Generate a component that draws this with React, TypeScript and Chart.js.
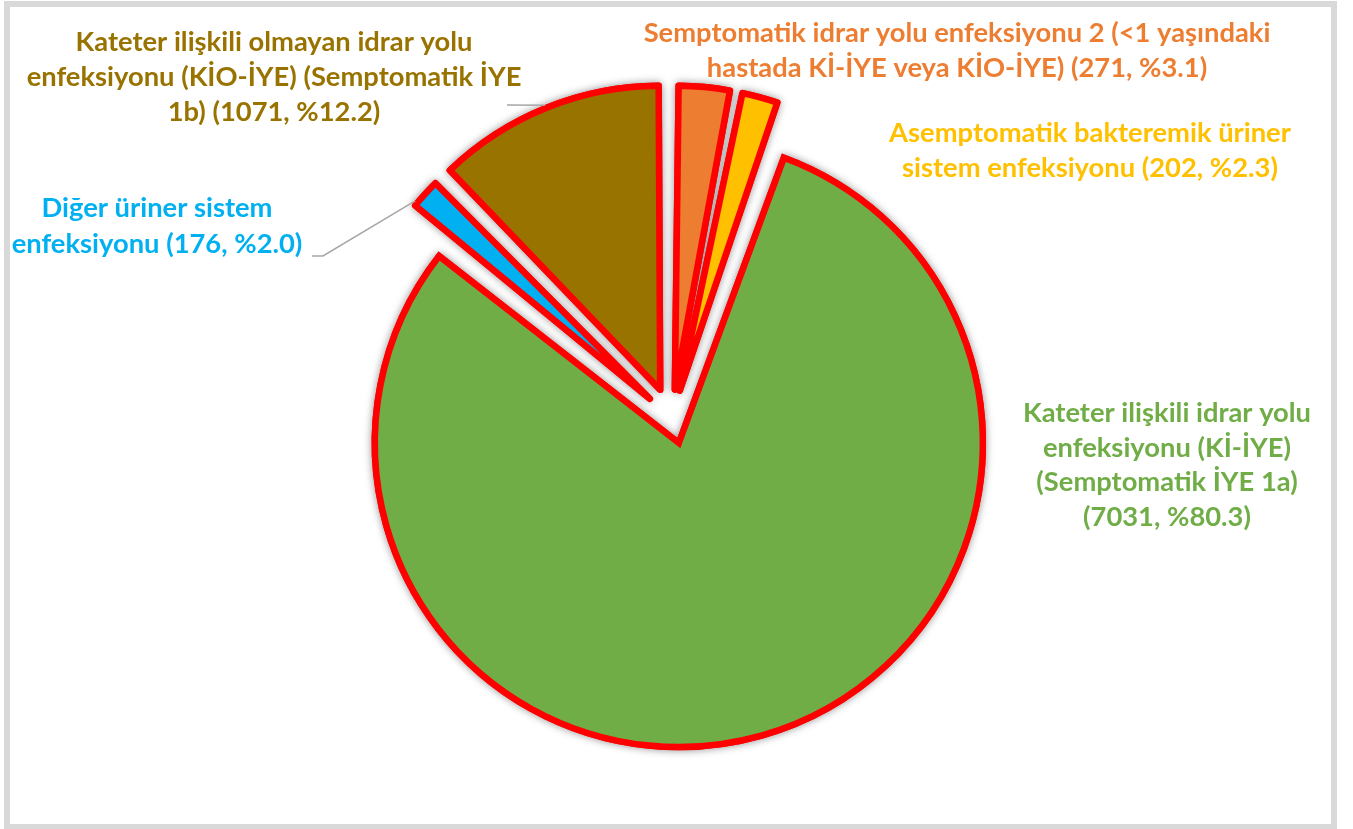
import React, { useEffect, useRef } from "react";
import { Chart, registerables } from "chart.js";

Chart.register(...registerables);

// ---------- data ----------
const categories = [
  "Semptomatik idrar yolu enfeksiyonu 2 (<1 yaşındaki hastada Kİ-İYE veya KİO-İYE)",
  "Asemptomatik bakteremik üriner sistem enfeksiyonu",
  "Kateter ilişkili idrar yolu enfeksiyonu (Kİ-İYE) (Semptomatik İYE 1a)",
  "Diğer üriner sistem enfeksiyonu",
  "Kateter ilişkili olmayan idrar yolu enfeksiyonu (KİO-İYE) (Semptomatik İYE 1b)",
];
const counts = [271, 202, 7031, 176, 1071];
const percents = ["3.1", "2.3", "80.3", "2.0", "12.2"];

const valueTag = (i: number) => `(${counts[i]}, %${percents[i]})`;

const labelLines: string[][] = [
  ["Semptomatik idrar yolu enfeksiyonu 2 (<1 yaşındaki", "hastada Kİ-İYE veya KİO-İYE) " + valueTag(0)],
  ["Asemptomatik bakteremik üriner", "sistem enfeksiyonu " + valueTag(1)],
  ["Kateter ilişkili idrar yolu", "enfeksiyonu (Kİ-İYE)", "(Semptomatik İYE 1a)", valueTag(2)],
  ["Diğer üriner sistem", "enfeksiyonu " + valueTag(3)],
  ["Kateter ilişkili olmayan idrar yolu", "enfeksiyonu (KİO-İYE) (Semptomatik İYE", "1b) " + valueTag(4)],
];

// ---------- styles ----------
const sliceColors = ["#ED7D31", "#FFC000", "#70AD47", "#00B0F0", "#997300"];
const textColors = ["#ED7D31", "#FFC000", "#70AD47", "#00B0F0", "#997300"];
const explodeOffset = [118, 118, 100, 120, 126]; // chart.js translates by offset/4
const joinStyles = ["round", "round", "miter", "round", "round"];
const PIE_RADIUS = 304;
const FONT_FAMILY = "Lato, 'Open Sans', sans-serif";
const REF_LINE = "Kateter ilişkili olmayan idrar yolu";
const REF_WIDTH = 397;

// label layout: centre x, first baseline y, line height
const labelLayout = [
  { x: 957, y: 42, lh: 35 },
  { x: 1090, y: 142, lh: 35 },
  { x: 1167, y: 422, lh: 34.5 },
  { x: 157, y: 217, lh: 36 },
  { x: 274, y: 51, lh: 35 },
];
// leader lines: fixed anchor points near text, then point on the slice edge
const leaders: { index: number; from: [number, number][]; frac: number }[] = [
  { index: 3, from: [[312, 256], [323, 256]], frac: 0.2 },
  { index: 4, from: [[507, 105]], frac: 0.5 },
];

function arcPoint(el: any, frac: number, extra: number) {
  const off = ((el.options && el.options.offset) || 0) / 4;
  const mid = (el.startAngle + el.endAngle) / 2;
  const cx = el.x + Math.cos(mid) * off;
  const cy = el.y + Math.sin(mid) * off;
  const a = el.startAngle + (el.endAngle - el.startAngle) * frac;
  const r = PIE_RADIUS + extra;
  return [cx + Math.cos(a) * r, cy + Math.sin(a) * r];
}

const customPlugin = {
  id: "custom",
  beforeDraw(chart: any) {
    const ctx = chart.ctx;
    ctx.save();
    ctx.fillStyle = "#FFFFFF";
    ctx.fillRect(0, 0, chart.width, chart.height);
    ctx.strokeStyle = "#D9D9D9";
    ctx.lineWidth = 6;
    ctx.strokeRect(7, 4, 1327, 823);
    ctx.restore();
  },
  afterDatasetsUpdate(chart: any) {
    const meta = chart.getDatasetMeta(0);
    meta.data.forEach((el: any) => {
      const off = ((el.options && el.options.offset) || 0) / 4;
      const fix = 1 - Math.sin(Math.min(Math.PI, el.circumference || 0));
      el.outerRadius = PIE_RADIUS - off * fix;
    });
  },
  beforeDatasetsDraw(chart: any) {
    const ctx = chart.ctx;
    const meta = chart.getDatasetMeta(0);
    ctx.save();
    ctx.shadowColor = "rgba(0,0,0,0.35)";
    ctx.shadowBlur = 9;
    meta.data.forEach((el: any) => el.draw(ctx));
    ctx.restore();
  },
  afterDraw(chart: any) {
    const ctx = chart.ctx;
    const meta = chart.getDatasetMeta(0);
    ctx.save();
    // leader lines
    ctx.strokeStyle = "#A6A6A6";
    ctx.lineWidth = 1.5;
    leaders.forEach((ld) => {
      const el = meta.data[ld.index];
      const p = arcPoint(el, ld.frac, 3);
      ctx.beginPath();
      ctx.moveTo(ld.from[0][0], ld.from[0][1]);
      for (let k = 1; k < ld.from.length; k++) ctx.lineTo(ld.from[k][0], ld.from[k][1]);
      ctx.lineTo(p[0], p[1]);
      ctx.stroke();
    });
    // labels
    ctx.font = `bold 100px ${FONT_FAMILY}`;
    const w = ctx.measureText(REF_LINE).width;
    const size = (100 * REF_WIDTH) / w;
    ctx.font = `bold ${size.toFixed(2)}px ${FONT_FAMILY}`;
    ctx.textAlign = "center";
    ctx.textBaseline = "alphabetic";
    labelLines.forEach((lines, i) => {
      const L = labelLayout[i];
      ctx.fillStyle = textColors[i];
      lines.forEach((line, j) => {
        ctx.fillText(line, L.x, L.y + j * L.lh);
      });
    });
    ctx.restore();
  },
};

export default function App() {
  const canvasRef = useRef<HTMLCanvasElement | null>(null);

  useEffect(() => {
    if (!canvasRef.current) return;
    const chart = new Chart(canvasRef.current, {
      type: "pie",
      data: {
        labels: categories,
        datasets: [
          {
            data: counts,
            backgroundColor: sliceColors,
            borderColor: "#FF0000",
            borderWidth: 6.5,
            offset: explodeOffset,
            hoverOffset: 0,
            borderJoinStyle: joinStyles as any,
          },
        ],
      },
      options: {
        animation: false,
        responsive: false,
        maintainAspectRatio: false,
        radius: PIE_RADIUS,
        events: [],
        layout: { padding: { left: 0, right: 9, top: 9, bottom: 0 } },
        plugins: {
          legend: { display: false },
          tooltip: { enabled: false },
          title: { display: false },
        },
      } as any,
      plugins: [customPlugin],
    });
    return () => chart.destroy();
  }, []);

  return (
    <div style={{ position: "absolute", left: 0, top: 0, width: 1353, height: 829, background: "#fff" }}>
      <canvas ref={canvasRef} width={1353} height={829} style={{ display: "block", width: 1353, height: 829 }} />
    </div>
  );
}
